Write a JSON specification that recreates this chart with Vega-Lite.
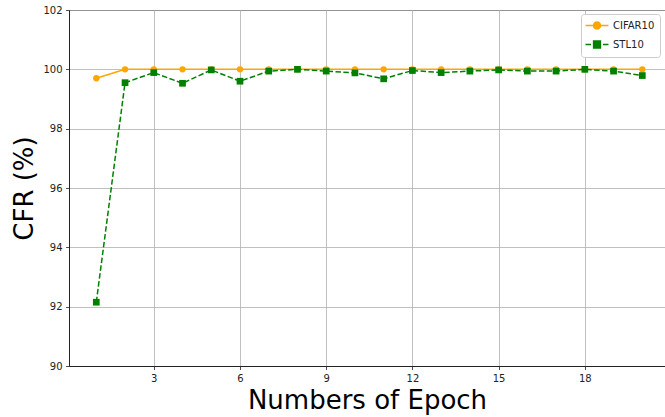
{
  "$schema": "https://vega.github.io/schema/vega-lite/v6.json",
  "width": 596,
  "height": 356,
  "autosize": {"type": "none"},
  "padding": {"left": 69, "top": 10, "right": 0, "bottom": 51},
  "config": {
    "font": "DejaVu Sans",
    "view": {"stroke": "#222222", "strokeWidth": 1},
    "axis": {
      "domainColor": "#222222",
      "domainWidth": 1,
      "tickColor": "#222222",
      "tickSize": 3.5,
      "tickWidth": 0.8,
      "labelFontSize": 10,
      "labelColor": "#222222",
      "labelPadding": 3.5,
      "gridColor": "#b0b0b0",
      "gridWidth": 0.8,
      "titleFontSize": 26,
      "titleFontWeight": "normal",
      "titleColor": "#000000"
    }
  },
  "data": {
    "values": [
      {"epoch": 1, "series": "CIFAR10", "cfr": 99.7},
      {"epoch": 2, "series": "CIFAR10", "cfr": 100},
      {"epoch": 3, "series": "CIFAR10", "cfr": 100},
      {"epoch": 4, "series": "CIFAR10", "cfr": 100},
      {"epoch": 5, "series": "CIFAR10", "cfr": 100},
      {"epoch": 6, "series": "CIFAR10", "cfr": 100},
      {"epoch": 7, "series": "CIFAR10", "cfr": 100},
      {"epoch": 8, "series": "CIFAR10", "cfr": 100},
      {"epoch": 9, "series": "CIFAR10", "cfr": 100},
      {"epoch": 10, "series": "CIFAR10", "cfr": 100},
      {"epoch": 11, "series": "CIFAR10", "cfr": 100},
      {"epoch": 12, "series": "CIFAR10", "cfr": 100},
      {"epoch": 13, "series": "CIFAR10", "cfr": 100},
      {"epoch": 14, "series": "CIFAR10", "cfr": 100},
      {"epoch": 15, "series": "CIFAR10", "cfr": 100},
      {"epoch": 16, "series": "CIFAR10", "cfr": 100},
      {"epoch": 17, "series": "CIFAR10", "cfr": 100},
      {"epoch": 18, "series": "CIFAR10", "cfr": 100},
      {"epoch": 19, "series": "CIFAR10", "cfr": 100},
      {"epoch": 20, "series": "CIFAR10", "cfr": 100},
      {"epoch": 1, "series": "STL10", "cfr": 92.15},
      {"epoch": 2, "series": "STL10", "cfr": 99.55},
      {"epoch": 3, "series": "STL10", "cfr": 99.89},
      {"epoch": 4, "series": "STL10", "cfr": 99.53},
      {"epoch": 5, "series": "STL10", "cfr": 99.98},
      {"epoch": 6, "series": "STL10", "cfr": 99.6},
      {"epoch": 7, "series": "STL10", "cfr": 99.94},
      {"epoch": 8, "series": "STL10", "cfr": 100},
      {"epoch": 9, "series": "STL10", "cfr": 99.94},
      {"epoch": 10, "series": "STL10", "cfr": 99.88},
      {"epoch": 11, "series": "STL10", "cfr": 99.68},
      {"epoch": 12, "series": "STL10", "cfr": 99.96},
      {"epoch": 13, "series": "STL10", "cfr": 99.89},
      {"epoch": 14, "series": "STL10", "cfr": 99.94},
      {"epoch": 15, "series": "STL10", "cfr": 99.98},
      {"epoch": 16, "series": "STL10", "cfr": 99.94},
      {"epoch": 17, "series": "STL10", "cfr": 99.94},
      {"epoch": 18, "series": "STL10", "cfr": 100},
      {"epoch": 19, "series": "STL10", "cfr": 99.94},
      {"epoch": 20, "series": "STL10", "cfr": 99.79}
    ]
  },
  "encoding": {
    "x": {
      "field": "epoch",
      "type": "quantitative",
      "scale": {"domain": [0.05, 20.79], "nice": false, "zero": false},
      "axis": {"values": [3, 6, 9, 12, 15, 18], "title": "Numbers of Epoch", "titlePadding": 4, "grid": true}
    },
    "y": {
      "field": "cfr",
      "type": "quantitative",
      "scale": {"domain": [90, 102], "nice": false, "zero": false},
      "axis": {"values": [90, 92, 94, 96, 98, 100, 102], "title": "CFR (%)", "titlePadding": 5, "grid": true}
    },
    "color": {
      "field": "series",
      "type": "nominal",
      "scale": {"domain": ["CIFAR10", "STL10"], "range": ["#ffa500", "#008000"]},
      "legend": {
        "title": null,
        "orient": "none",
        "legendX": 512,
        "legendY": 4,
        "padding": 5.5,
        "strokeColor": "#cccccc",
        "fillColor": "#ffffff",
        "cornerRadius": 3,
        "symbolSize": 100,
        "symbolOffset": 4.5,
        "labelFontSize": 10,
        "labelColor": "#222222",
        "labelOffset": 10,
        "rowPadding": 5,
        "encode": {
          "symbols": {
            "update": {
              "shape": {"signal": "datum.value === 'CIFAR10' ? 'M-2.3,0H2.3M-0.7,0A0.7,0.7 0 1 1 0.7,0A0.7,0.7 0 1 1 -0.7,0Z' : 'M-2.3,0H-1.2M1.2,0H2.3M-0.68,-0.68H0.68V0.68H-0.68Z'"},
              "fill": {"signal": "datum.value === 'CIFAR10' ? '#ffa500' : '#008000'"},
              "stroke": {"signal": "datum.value === 'CIFAR10' ? '#ffa500' : '#008000'"},
              "strokeWidth": {"value": 1.5},
              "strokeDash": {"value": []},
              "opacity": {"value": 1},
              "fillOpacity": {"value": 1},
              "strokeOpacity": {"value": 1}
            }
          }
        }
      }
    }
  },
  "layer": [
    {
      "transform": [{"filter": "datum.series === 'CIFAR10'"}],
      "mark": {"type": "line", "strokeWidth": 1.5}
    },
    {
      "transform": [{"filter": "datum.series === 'CIFAR10'"}],
      "mark": {"type": "point", "shape": "circle", "filled": true, "opacity": 1, "size": 40}
    },
    {
      "transform": [{"filter": "datum.series === 'STL10'"}],
      "mark": {"type": "line", "strokeWidth": 1.5, "strokeDash": [5.5, 2.4]}
    },
    {
      "transform": [{"filter": "datum.series === 'STL10'"}],
      "mark": {"type": "point", "shape": "square", "filled": true, "opacity": 1, "size": 45}
    }
  ]
}
